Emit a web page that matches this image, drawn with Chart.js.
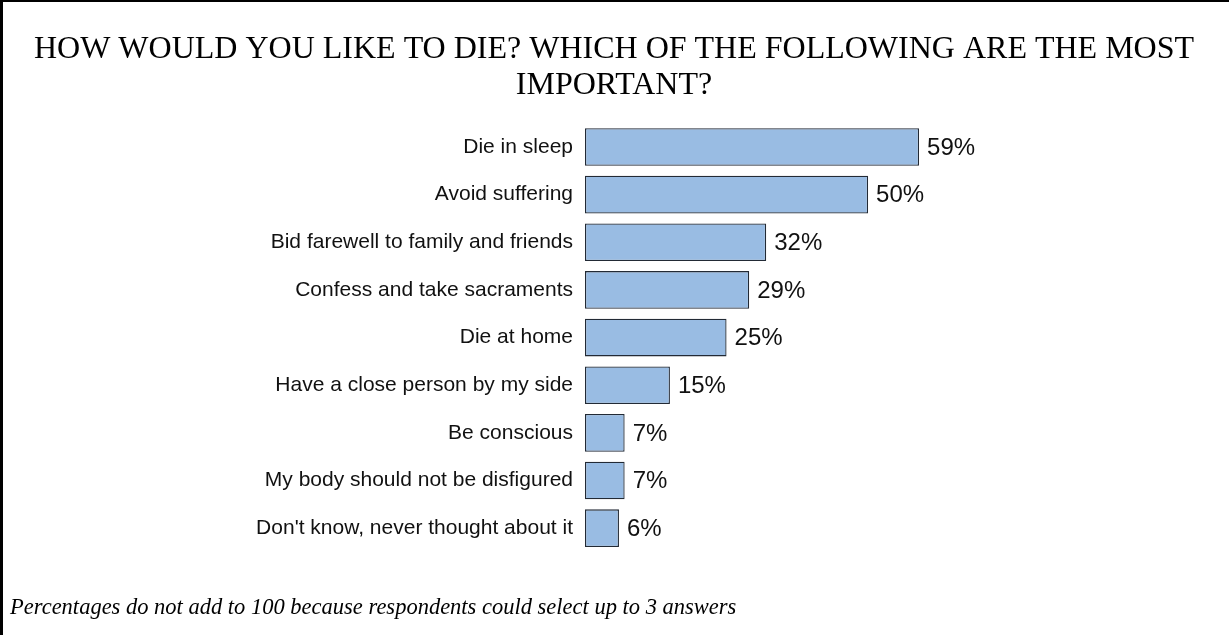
<!DOCTYPE html>
<html>
<head>
<meta charset="utf-8">
<script src="https://cdn.jsdelivr.net/npm/chart.js@4/dist/chart.umd.min.js"></script>
<style>
  html, body { margin: 0; padding: 0; background: #fff; }
  #wrap { position: absolute; left: 0; top: 0; width: 1229px; height: 635px;
          box-sizing: border-box; border-top: 2px solid #000; border-left: 3px solid #000; background:#fff; }
  #c { display: block; }
</style>
</head>
<body>
<div id="wrap"><canvas id="c" width="1226" height="633"></canvas></div>
<script>
const titleLines = ["HOW WOULD YOU LIKE TO DIE? WHICH OF THE FOLLOWING ARE THE MOST", "IMPORTANT?"];
const footnote = "Percentages do not add to 100 because respondents could select up to 3 answers";
const categories = [
  "Die in sleep",
  "Avoid suffering",
  "Bid farewell to family and friends",
  "Confess and take sacraments",
  "Die at home",
  "Have a close person by my side",
  "Be conscious",
  "My body should not be disfigured",
  "Don't know, never thought about it"
];
const values = [59, 50, 32, 29, 25, 15, 7, 7, 6];

const valueLabels = {
  id: 'valueLabels',
  afterDatasetsDraw(chart) {
    const ctx = chart.ctx;
    const meta = chart.getDatasetMeta(0);
    ctx.save();
    ctx.font = '24px "Liberation Sans", Arial, sans-serif';
    ctx.fillStyle = '#111';
    ctx.textAlign = 'left';
    ctx.textBaseline = 'middle';
    meta.data.forEach((bar, i) => {
      ctx.fillText(values[i] + '%', bar.x + 8, bar.y + 1);
    });
    ctx.restore();
  }
};

new Chart(document.getElementById('c'), {
  type: 'bar',
  data: {
    labels: categories,
    datasets: [{
      data: values,
      backgroundColor: '#99bce3',
      borderColor: '#222a35',
      borderWidth: 1.3,
      borderSkipped: false,
      categoryPercentage: 1,
      barPercentage: 0.79
    }]
  },
  options: {
    indexAxis: 'y',
    responsive: false,
    animation: false,
    layout: { padding: { left: 7, right: 11, top: 0, bottom: 0 } },
    scales: {
      x: { display: false, min: 0, max: 111.8 },
      y: {
        grid: { display: false, drawTicks: false },
        border: { display: false },
        ticks: {
          padding: 12,
          color: '#111',
          font: { family: '"Liberation Sans", Arial, sans-serif', size: 21 }
        },
        afterFit(scale) { scale.width = 575; }
      }
    },
    plugins: {
      legend: { display: false },
      tooltip: { enabled: false },
      title: {
        display: true,
        text: titleLines,
        color: '#000',
        font: { family: '"Liberation Serif", "Times New Roman", serif', size: 32, weight: 'normal', lineHeight: 1.14 },
        padding: { top: 29, bottom: 19.2 }
      },
      subtitle: {
        display: true,
        position: 'bottom',
        align: 'start',
        text: footnote,
        color: '#000',
        font: { family: '"Liberation Serif", "Times New Roman", serif', size: 22.5, style: 'italic', lineHeight: 1.2 },
        padding: { top: 42.2, bottom: 13.8 }
      }
    }
  },
  plugins: [valueLabels]
});
</script>
</body>
</html>
